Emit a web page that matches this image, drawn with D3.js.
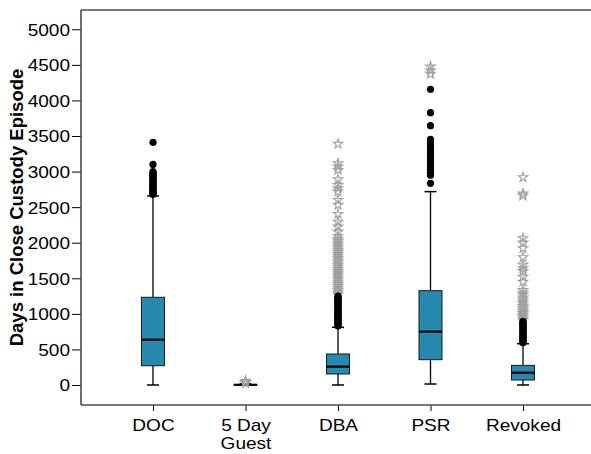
<!DOCTYPE html>
<html><head><meta charset="utf-8">
<script src="https://cdn.jsdelivr.net/npm/d3@7"></script>
<style>body{margin:0;background:#fff}svg{display:block}text{font-family:"Liberation Sans",Arial,sans-serif}</style>
</head><body><svg id="c" width="591" height="454"></svg>
<script>
const categories = ["DOC", "5 Day\nGuest", "DBA", "PSR", "Revoked"];
const lowerWhisker = [0, 0, 0, 14, 0];
const q1 = [271, 1, 155, 356, 70];
const median = [637, 3, 258, 750, 173];
const q3 = [1233, 6, 436, 1326, 276];
const upperWhisker = [2657, 14, 811, 2718, 580];
const outlierCircles = [
  [2680,2695,2705,2720,2735,2750,2770,2790,2800,2815,2830,2850,2870,2880,2900,2920,2935,2950,2965,2980,3000,3100,3411],
  [],
  [830,845,860,875,890,905,920,935,950,965,980,995,1010,1025,1040,1055,1070,1085,1100,1115,1130,1145,1160,1175,1190,1205,1220,1235,1250],
  [2835,2950,2990,3030,3070,3110,3150,3190,3230,3270,3310,3350,3400,3454,3645,3828,4157],
  [595,610,625,640,655,670,685,700,715,730,745,760,775,790,805,820,835,850,865,880,895]
];
const outlierStars = [
  [],
  [25,42,58],
  [1270,1300,1330,1360,1390,1420,1450,1480,1510,1540,1570,1600,1630,1660,1690,1720,1750,1780,1810,1840,1870,1900,1930,1960,1990,2020,2050,2090,2155,2225,2295,2404,2530,2600,2717,2764,2811,2891,3022,3069,3116,3388],
  [4372,4420,4475],
  [910,935,960,985,1010,1035,1060,1085,1110,1140,1170,1200,1230,1270,1300,1335,1450,1520,1600,1640,1690,1795,1921,2000,2062,2661,2690,2919]
];
const yTicks = [0,500,1000,1500,2000,2500,3000,3500,4000,4500,5000];
const yTitle = "Days in Close Custody Episode";

const svg = d3.select("#c");
const L = 81, T = 10, B = 405, R = 591;
const y = d3.scaleLinear().domain([-281, 5271]).range([B, T]);
const x = d3.scalePoint().domain(categories).range([153, 523]);
const boxFill = "#2689ad";
const stretch = 1.12;

const data = categories.map((c,i)=>({c, lo:lowerWhisker[i], q1:q1[i], med:median[i], q3:q3[i], hi:upperWhisker[i], circ:outlierCircles[i], star:outlierStars[i]}));

// y axis
const gy = svg.append("g").attr("transform", `translate(${L},0)`)
  .call(d3.axisLeft(y).tickValues(yTicks).tickSize(9).tickPadding(2).tickFormat(d3.format("d")));
gy.select(".domain").remove();
gy.selectAll("line").attr("stroke","#000");
gy.selectAll("text").attr("font-size",17).attr("fill","#000").attr("dy","0.35em");

// x axis
const gx = svg.append("g").attr("transform", `translate(0,${B})`)
  .call(d3.axisBottom(x).tickSize(6).tickFormat(""));
gx.select(".domain").remove();
gx.selectAll("line").attr("stroke","#000");
gx.selectAll(".tick").each(function(d){
  const t = d3.select(this).append("text").attr("fill","#000").attr("font-size",17).attr("text-anchor","middle");
  d.split("\n").forEach((s,k)=>t.append("tspan").attr("x",0).attr("y",26+k*17.8).text(s));
});

// frame
const fr = svg.append("g").attr("stroke","#4a4a4a").attr("stroke-width",1.6).attr("fill","none");
fr.append("line").attr("x1",L).attr("x2",L).attr("y1",T).attr("y2",B);
fr.append("line").attr("x1",L).attr("x2",R).attr("y1",T).attr("y2",T);
fr.append("line").attr("x1",L).attr("x2",R).attr("y1",B).attr("y2",B);

// boxes
const bw = 23, cw = 12;
const g = svg.selectAll("g.box").data(data).join("g").attr("class","box")
  .attr("transform", d=>`translate(${x(d.c)},0)`);
g.append("line").attr("y1",d=>y(d.hi)).attr("y2",d=>y(d.q3)).attr("stroke","#000").attr("stroke-width",1.3);
g.append("line").attr("y1",d=>y(d.lo)).attr("y2",d=>y(d.q1)).attr("stroke","#000").attr("stroke-width",1.3);
g.append("line").attr("x1",-cw/2).attr("x2",cw/2).attr("y1",d=>y(d.hi)).attr("y2",d=>y(d.hi)).attr("stroke","#000").attr("stroke-width",1.5);
g.append("line").attr("x1",-cw/2).attr("x2",cw/2).attr("y1",d=>y(d.lo)).attr("y2",d=>y(d.lo)).attr("stroke","#000").attr("stroke-width",1.5);
g.append("rect").attr("x",-bw/2).attr("width",bw).attr("y",d=>y(d.q3)).attr("height",d=>Math.max(0.5,y(d.q1)-y(d.q3)))
  .attr("fill",boxFill).attr("stroke","#1a1a1a").attr("stroke-width",1);
g.append("line").attr("x1",-bw/2).attr("x2",bw/2).attr("y1",d=>y(d.med)).attr("y2",d=>y(d.med)).attr("stroke","#000").attr("stroke-width",2.2);

// stars
const star = d3.symbol().type(d3.symbolStar).size(28);
g.selectAll("path.st").data(d=>d.star).join("path").attr("class","st")
  .attr("d",star).attr("transform",v=>`translate(0,${y(v)})`)
  .attr("fill","none").attr("stroke","#a0a0a0").attr("stroke-width",1.1);
// circles
g.selectAll("circle").data(d=>d.circ).join("circle")
  .attr("cy",v=>y(v)).attr("r",3.6).attr("fill","#000");

// y title
svg.append("text").attr("transform","translate(23,207.5) rotate(-90)")
  .attr("text-anchor","middle").attr("font-weight","bold").attr("font-size",18.5).attr("fill","#000").text(yTitle);

// slight horizontal stretch of tick text to match reference
svg.selectAll("g.tick text").each(function(){
  const n = this.getComputedTextLength();
  if (n>0 && !this.querySelector("tspan")) d3.select(this).attr("textLength", n*stretch).attr("lengthAdjust","spacingAndGlyphs");
});
svg.selectAll("tspan").each(function(){
  const n = this.getComputedTextLength();
  if (n>0) d3.select(this).attr("textLength", n*stretch).attr("lengthAdjust","spacingAndGlyphs");
});
</script></body></html>
